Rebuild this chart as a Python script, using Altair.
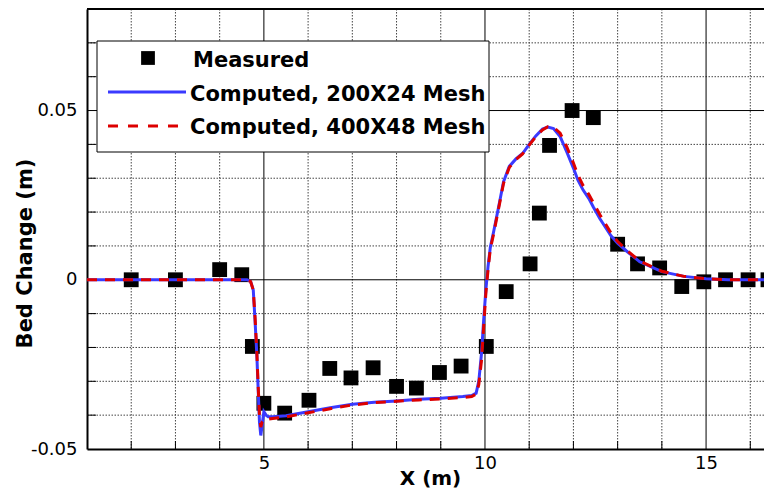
import altair as alt
import pandas as pd

# ---------------- data ----------------
X_LABEL = "X (m)"
Y_LABEL = "Bed Change (m)"
SERIES = ["Measured", "Computed, 200X24 Mesh", "Computed, 400X48 Mesh"]

X_TICKS = [5, 10, 15]
Y_TICKS = [-0.05, 0, 0.05]
X_MINOR = [2, 3, 4, 6, 7, 8, 9, 11, 12, 13, 14, 16]
Y_MINOR = [-0.04, -0.03, -0.02, -0.01, 0.01, 0.02, 0.03, 0.04, 0.06, 0.07]
X_DOMAIN = [1, 16.31]
Y_DOMAIN = [-0.05, 0.08]

MEAS_X = [2.0, 3.0, 4.0, 4.5, 4.74, 5.0, 5.47, 6.02, 6.49, 6.97, 7.47, 8.0, 8.45,
          8.97, 9.46, 10.03, 10.48, 11.02, 11.23, 11.46, 11.97, 12.45, 13.0, 13.45,
          13.95, 14.45, 14.95, 15.44, 15.95, 16.4]
MEAS_Y = [0.0, 0.0, 0.003, 0.0015, -0.0197, -0.0365, -0.0394, -0.0356, -0.0262,
          -0.029, -0.026, -0.0315, -0.032, -0.0274, -0.0255, -0.0197, -0.0035, 0.0047,
          0.0197, 0.0397, 0.050, 0.0479, 0.0105, 0.0047, 0.0035, -0.002, -0.0006,
          0.0, 0.0, 0.0]

CALC_X = [1.0, 2.0, 3.0, 4.0, 4.5, 4.62, 4.70, 4.76, 4.80, 4.84, 4.87, 4.90, 4.93,
          4.96, 5.0, 5.05, 5.1, 5.2, 5.5, 6.0, 6.5, 7.0, 7.5, 8.0, 8.5, 9.0, 9.5,
          9.7, 9.8, 9.86, 9.92, 9.97, 10.02, 10.07, 10.12, 10.2, 10.3, 10.42, 10.55,
          10.7, 10.85, 11.0, 11.15, 11.3, 11.42, 11.55, 11.7, 11.85, 12.0, 12.1,
          12.22, 12.35, 12.45, 12.6, 12.72, 12.85, 13.0, 13.2, 13.5, 14.0, 14.5,
          15.0, 15.5, 16.0, 16.31]
C200_Y = [0.0, 0.0, 0.0, 0.0, 0.0, 0.0, -0.0005, -0.003, -0.012, -0.022, -0.032,
          -0.042, -0.046, -0.043, -0.039, -0.040, -0.0405, -0.0405, -0.0402,
          -0.0390, -0.0378, -0.0368, -0.0362, -0.0358, -0.0353, -0.0350, -0.0345,
          -0.0342, -0.0335, -0.030, -0.022, -0.012, -0.003, 0.004, 0.0095, 0.0145,
          0.021, 0.029, 0.0335, 0.0357, 0.0373, 0.040, 0.0425, 0.0445, 0.0451,
          0.0447, 0.0423, 0.0378, 0.0330, 0.0295, 0.0265, 0.0240, 0.0215, 0.0180,
          0.0156, 0.0130, 0.0108, 0.0085, 0.0053, 0.0024, 0.0010, 0.0003, 0.0,
          0.0, 0.0]
C400_Y = [0.0, 0.0, 0.0, 0.0, 0.0, 0.0, -0.0005, -0.003, -0.011, -0.021, -0.031,
          -0.040, -0.0435, -0.042, -0.0412, -0.0413, -0.0412, -0.0410, -0.0405,
          -0.0393, -0.0381, -0.0370, -0.0363, -0.0359, -0.0355, -0.0352, -0.0348,
          -0.0345, -0.0338, -0.031, -0.024, -0.014, -0.004, 0.003, 0.009, 0.0138,
          0.0205, 0.0285, 0.0332, 0.0355, 0.0372, 0.0398, 0.0423, 0.0443, 0.0452,
          0.0451, 0.0433, 0.0393, 0.0345, 0.0310, 0.0278, 0.0252, 0.0228, 0.0192,
          0.0166, 0.0138, 0.0113, 0.0088, 0.0055, 0.0025, 0.0010, 0.0003, 0.0,
          0.0, 0.0]

# ---------------- styling ----------------
W, H = 677, 440
FONT = "DejaVu Sans"

meas_df = pd.DataFrame({"x": MEAS_X, "y": MEAS_Y})
c200_df = pd.DataFrame({"x": CALC_X, "y": C200_Y})
c400_df = pd.DataFrame({"x": CALC_X, "y": C400_Y})
one = pd.DataFrame({"k": [0]})

xs = alt.Scale(domain=X_DOMAIN, nice=False, zero=False)
ys = alt.Scale(domain=Y_DOMAIN, nice=False, zero=False)

XAX = alt.Axis(values=X_TICKS, grid=False, ticks=False, domain=True,
               domainColor="black", domainWidth=2, labelFont=FONT,
               labelFontSize=18, labelColor="black", labelPadding=5,
               labelFlush=False, labelOverlap=False,
               title=X_LABEL, titleFont=FONT, titleFontSize=20,
               titleFontWeight="bold", titleColor="black", titleX=343,
               titleY=29, titleAlign="center", titleBaseline="middle")
YAX = alt.Axis(values=Y_TICKS, grid=False, ticks=False, domain=True,
               domainColor="black", domainWidth=2, labelFont=FONT,
               labelFontSize=18, labelColor="black", labelPadding=10,
               labelExpr="datum.value == 0 ? '0' : (datum.value < 0 ? '-' : '') + format(abs(datum.value), '.2f')",
               labelOverlap=False, labelFlush=False,
               title=Y_LABEL, titleFont=FONT, titleFontSize=21,
               titleFontWeight="bold", titleColor="black", titleX=-62,
               titleY=244, titleAngle=270, titleAlign="center",
               titleBaseline="middle")


def X(field="x"):
    return alt.X(f"{field}:Q", scale=xs, axis=XAX)


def Y(field="y"):
    return alt.Y(f"{field}:Q", scale=ys, axis=YAX)


# minor dotted grid
gx_minor = alt.Chart(pd.DataFrame({"x": X_MINOR})).mark_rule(
    color="#444", strokeWidth=1, strokeDash=[1.5, 1.5]).encode(x=X())
gy_minor = alt.Chart(pd.DataFrame({"y": Y_MINOR})).mark_rule(
    color="#444", strokeWidth=1, strokeDash=[1.5, 1.5]).encode(y=Y())
# major solid grid
gx_major = alt.Chart(pd.DataFrame({"x": X_TICKS})).mark_rule(
    color="black", strokeWidth=1).encode(x=X())
gy_major = alt.Chart(pd.DataFrame({"y": [v for v in Y_TICKS if v > Y_DOMAIN[0]]})).mark_rule(
    color="black", strokeWidth=1).encode(y=Y())
# inward minor ticks
ty_minor = alt.Chart(pd.DataFrame({"y": Y_MINOR})).mark_rule(
    color="black", strokeWidth=1).encode(y=Y(), x=alt.value(0), x2=alt.value(9))
tx_minor = alt.Chart(pd.DataFrame({"x": X_MINOR})).mark_rule(
    color="black", strokeWidth=1).encode(x=X(), y=alt.value(H), y2=alt.value(H - 8))
# top frame
top_frame = alt.Chart(one).mark_rule(color="black", strokeWidth=2).encode(
    x=alt.value(0), x2=alt.value(W), y=alt.value(0))

meas = alt.Chart(meas_df).mark_square(
    color="black", size=220, opacity=1, clip=True).encode(x=X(), y=Y())
line200 = alt.Chart(c200_df).mark_line(
    color="#3a3aff", strokeWidth=3, clip=True).encode(x=X(), y=Y())
line400 = alt.Chart(c400_df).mark_line(
    color="#dd0000", strokeWidth=3, strokeDash=[10, 8], clip=True).encode(x=X(), y=Y())

# legend box
leg_box = alt.Chart(one).mark_rect(fill="white", stroke="black", strokeWidth=1).encode(
    x=alt.value(10), x2=alt.value(402), y=alt.value(32), y2=alt.value(143))
leg_sq = alt.Chart(one).mark_square(color="black", size=190, opacity=1).encode(
    x=alt.value(61), y=alt.value(49))
leg_blue = alt.Chart(one).mark_rule(color="#3a3aff", strokeWidth=3).encode(
    x=alt.value(21), x2=alt.value(99), y=alt.value(83))
leg_red = alt.Chart(one).mark_rule(color="#dd0000", strokeWidth=3, strokeDash=[10, 10]).encode(
    x=alt.value(21), x2=alt.value(99), y=alt.value(117))


def leg_text(label, x, y):
    return alt.Chart(one).mark_text(
        align="left", baseline="alphabetic", font=FONT, fontSize=21,
        fontWeight="bold", color="black").encode(
        x=alt.value(x), y=alt.value(y), text=alt.value(label))


chart = alt.layer(
    gx_minor, gy_minor, gx_major, gy_major, ty_minor, tx_minor,
    meas, line200, line400, top_frame,
    leg_box, leg_sq, leg_blue, leg_red,
    leg_text(SERIES[0], 106, 57.5),
    leg_text(SERIES[1], 103, 91.5),
    leg_text(SERIES[2], 103, 125),
).properties(
    width=W, height=H,
    autosize=alt.AutoSizeParams(type="none"),
    padding={"left": 87, "top": 9, "right": 0, "bottom": 46},
    background="white",
).configure_view(stroke=None)

chart.save("out.html", embed_options={"renderer": "svg", "actions": False})
